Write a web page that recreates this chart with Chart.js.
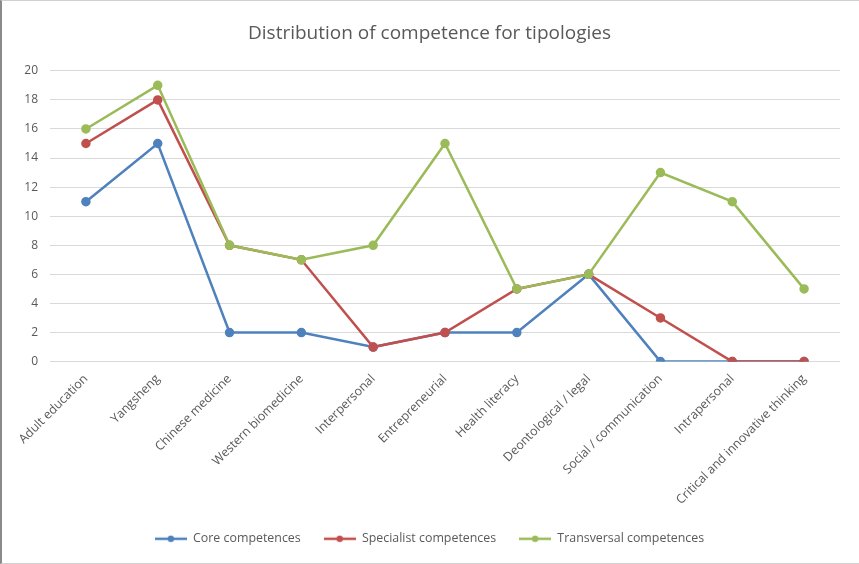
<!DOCTYPE html>
<html>
<head>
<meta charset="utf-8">
<script src="https://cdn.jsdelivr.net/npm/chart.js@4.4.1/dist/chart.umd.min.js"></script>
<style>
  html, body { margin: 0; padding: 0; background: #fff; }
  #wrap { position: absolute; left: 0; top: 0; width: 857px; height: 562px; border: 1px solid #d0d0d0; border-left: 2px solid #8a8a8a; }
  #wrap canvas { position: absolute; left: -2px; top: -1px; }
</style>
</head>
<body>
<div id="wrap"><canvas id="chart" width="859" height="564"></canvas></div>
<script>
// Categories and values
var categories = ['Adult education', 'Yangsheng', 'Chinese medicine', 'Western biomedicine', 'Interpersonal',
  'Entrepreneurial', 'Health literacy', 'Deontological / legal', 'Social / communication', 'Intrapersonal',
  'Critical and innovative thinking'];
var coreValues = [11, 15, 2, 2, 1, 2, 2, 6, 0, 0, 0];
var specialistValues = [15, 18, 8, 7, 1, 2, 5, 6, 3, 0, 0];
var transversalValues = [16, 19, 8, 7, 8, 15, 5, 6, 13, 11, 5];
var yTicks = [0, 2, 4, 6, 8, 10, 12, 14, 16, 18, 20];

var FONT = "'Open Sans', 'Liberation Sans', sans-serif";
var TEXT = '#595959';

// legend marker: short line with a dot in the middle
function marker(color) {
  var c = document.createElement('canvas');
  c.width = 32; c.height = 10;
  var g = c.getContext('2d');
  g.strokeStyle = color; g.lineWidth = 2.5;
  g.beginPath(); g.moveTo(0, 5); g.lineTo(32, 5); g.stroke();
  g.fillStyle = color;
  g.beginPath(); g.arc(16, 5, 3.2, 0, Math.PI * 2); g.fill();
  return c;
}

// order: later series drawn on top (green over red over blue)
function series(label, data, color, order) {
  return {
    label: label,
    data: data,
    borderColor: color,
    backgroundColor: color,
    borderWidth: 2.5,
    pointRadius: 3.5,
    pointHoverRadius: 4,
    pointStyle: 'circle',
    order: order,
    tension: 0
  };
}

var ctx = document.getElementById('chart').getContext('2d');
new Chart(ctx, {
  type: 'line',
  data: {
    labels: categories,
    datasets: [
      series('Core competences', coreValues, '#4F81BD', 3),
      series('Specialist competences', specialistValues, '#C0504D', 2),
      series('Transversal competences', transversalValues, '#9BBB59', 1)
    ]
  },
  options: {
    responsive: false,
    animation: false,
    layout: { padding: { left: 0, right: 0, top: 0, bottom: 9 } },
    plugins: {
      title: {
        display: true,
        text: 'Distribution of competence for tipologies',
        color: TEXT,
        font: { family: FONT, size: 19, weight: 'normal' },
        padding: { top: 22, bottom: 26 }
      },
      legend: {
        position: 'bottom',
        labels: {
          color: TEXT,
          font: { family: FONT, size: 12.4 },
          usePointStyle: true,
          pointStyleWidth: 32,
          boxHeight: 10,
          padding: 23,
          sort: function(a, b) { return a.datasetIndex - b.datasetIndex; },
          generateLabels: function(chart) {
            var items = Chart.defaults.plugins.legend.labels.generateLabels(chart);
            items.forEach(function(it) {
              it.pointStyle = marker(chart.data.datasets[it.datasetIndex].borderColor);
            });
            return items;
          }
        }
      },
      tooltip: { enabled: false }
    },
    scales: {
      x: {
        offset: true,
        grid: { display: false, drawTicks: false },
        border: { display: false },
        ticks: {
          color: TEXT,
          font: { family: FONT, size: 12.4 },
          minRotation: 45,
          maxRotation: 45,
          autoSkip: false,
          padding: 10
        },
        afterFit: function(scale) { scale.height = 148; }
      },
      y: {
        min: 0,
        max: 20,
        afterBuildTicks: function(scale) {
          scale.ticks = yTicks.map(function(v) { return { value: v }; });
        },
        grid: { color: '#d9d9d9', lineWidth: 1, drawTicks: false },
        border: { display: false },
        ticks: {
          color: TEXT,
          font: { family: FONT, size: 12 },
          padding: 12
        },
        afterFit: function(scale) { scale.width = 50; }
      },
      // empty right-hand margin so the title stays centred on the whole canvas
      yRight: {
        position: 'right',
        grid: { display: false, drawTicks: false },
        border: { display: false },
        ticks: { display: false },
        afterFit: function(scale) { scale.width = 19; }
      }
    }
  }
});
</script>
</body>
</html>
